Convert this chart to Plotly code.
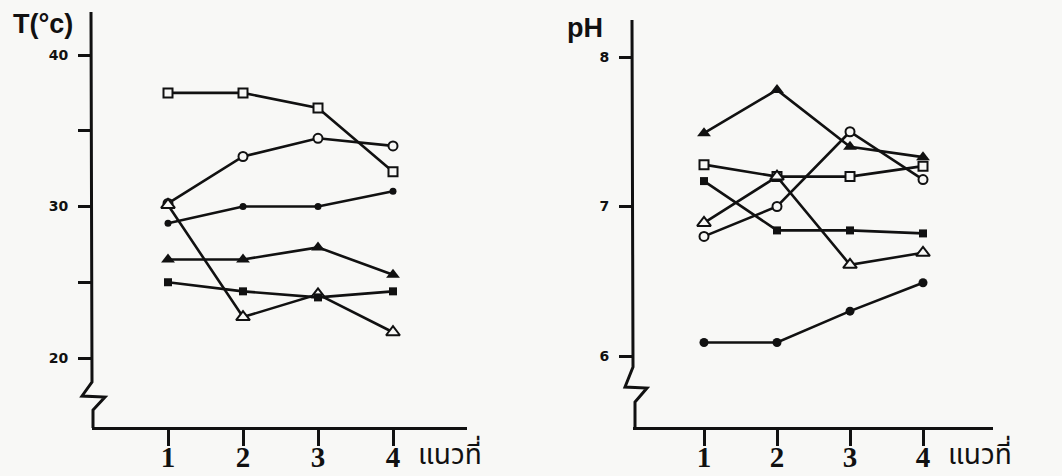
import plotly.graph_objects as go

W, H = 1062, 476

# ---- data ----
lines_x = [1, 2, 3, 4]
x_ticklabels = ["1", "2", "3", "4"]

T_open_square = [37.5, 37.5, 36.5, 32.3]
T_open_circle = [30.2, 33.3, 34.5, 34.0]
T_filled_circle = [28.9, 30.0, 30.0, 31.0]
T_open_triangle = [30.1, 22.7, 24.2, 21.7]
T_filled_triangle = [26.5, 26.5, 27.3, 25.5]
T_filled_square = [25.0, 24.4, 24.0, 24.4]

pH_filled_triangle = [7.49, 7.78, 7.40, 7.33]
pH_open_circle = [6.80, 7.00, 7.50, 7.18]
pH_open_square = [7.28, 7.20, 7.20, 7.27]
pH_open_triangle = [6.89, 7.20, 6.61, 6.69]
pH_filled_square = [7.17, 6.84, 6.84, 6.82]
pH_filled_circle = [6.09, 6.09, 6.30, 6.49]

T_tickvals = [20, 25, 30, 35, 40]
T_ticktext = ["20", "", "30", "", "40"]
pH_tickvals = [6, 7, 8]
pH_ticktext = ["6", "7", "8"]

INK = "#111111"
BG = "#f8f8f6"

def px(x):
    return x / W

def py(y):
    return 1 - y / H

fig = go.Figure()

def add(xa, ya, ys, symbol, size, hollow=False):
    fig.add_trace(go.Scatter(
        x=lines_x, y=ys, xaxis=xa, yaxis=ya, mode="lines+markers",
        line=dict(color=INK, width=2.6),
        marker=dict(symbol=symbol, size=size, color=BG if hollow else INK,
                    line=dict(color=INK, width=2 if hollow else 0)),
        showlegend=False, cliponaxis=False))

add("x", "y", T_open_square, "square", 9, True)
add("x", "y", T_open_circle, "circle", 9, True)
add("x", "y", T_filled_circle, "circle", 7)
add("x", "y", T_open_triangle, "triangle-up", 12, True)
add("x", "y", T_filled_triangle, "triangle-up", 12)
add("x", "y", T_filled_square, "square", 8)

add("x2", "y2", pH_filled_triangle, "triangle-up", 12)
add("x2", "y2", pH_open_circle, "circle", 9, True)
add("x2", "y2", pH_open_square, "square", 9, True)
add("x2", "y2", pH_open_triangle, "triangle-up", 12, True)
add("x2", "y2", pH_filled_square, "square", 8)
add("x2", "y2", pH_filled_circle, "circle", 9)

xcommon = dict(
    tickvals=lines_x, ticktext=x_ticklabels, ticks="outside", ticklen=16, tickwidth=2.5,
    tickcolor=INK, showline=True, linecolor=INK, linewidth=3, showgrid=False,
    zeroline=False, tickfont=dict(family="Liberation Serif", size=29, color=INK, weight="bold"),
    ticklabelstandoff=-14, automargin=False,
)
ycommon = dict(
    ticks="outside", ticklen=13, tickwidth=2.5, tickcolor=INK, showline=False,
    showgrid=False, zeroline=False,
    tickfont=dict(family="DejaVu Sans", size=14, color=INK, weight="bold"),
    ticklabelstandoff=7, automargin=False,
)

fig.update_layout(
    xaxis=dict(domain=[px(92), px(467)], range=[1 - (168 - 92) / 75, 4 + (467 - 393) / 75],
               anchor="y", **xcommon),
    yaxis=dict(domain=[py(427), py(12)], range=[20 - (427 - 358) / 15.15, 40 + (55 - 12) / 15.15],
               anchor="x", tickvals=T_tickvals, ticktext=T_ticktext, **ycommon),
    xaxis2=dict(domain=[px(633), px(993)], range=[1 - (704 - 633) / 73, 4 + (993 - 923) / 73],
                anchor="y2", **xcommon),
    yaxis2=dict(domain=[py(427), py(20)], range=[6 - (427 - 356) / 149.5, 8 + (57 - 20) / 149.5],
                anchor="x2", tickvals=pH_tickvals, ticktext=pH_ticktext, **ycommon),
)

def axis_path(pts):
    d = "M " + " L ".join(f"{px(a):.5f},{py(b):.5f}" for a, b in pts)
    return dict(type="path", xref="paper", yref="paper", path=d,
                line=dict(color=INK, width=3), layer="above")

fig.add_shape(axis_path([(91, 12), (92, 382), (82, 396), (105, 397), (93, 410), (93, 428)]))
fig.add_shape(axis_path([(632, 20), (633, 367), (625, 387), (647, 388), (635, 402), (635, 428)]))

ann_font = dict(family="Liberation Sans", size=27, color=INK, weight="bold")
fig.add_annotation(text="T(°c)", x=px(11), y=py(24), xref="paper", yref="paper",
                   xanchor="left", yanchor="middle", showarrow=False, font=ann_font)
fig.add_annotation(text="pH", x=px(565), y=py(28), xref="paper", yref="paper",
                   xanchor="left", yanchor="middle", showarrow=False, font=ann_font)
thai_font = dict(family="Noto Sans Thai, Noto Sans, DejaVu Sans, sans-serif", size=28, color=INK)
fig.add_annotation(text="แนวที่", x=px(416), y=py(455), xref="paper", yref="paper",
                   xanchor="left", yanchor="middle", showarrow=False, font=thai_font)
fig.add_annotation(text="แนวที่", x=px(946), y=py(455), xref="paper", yref="paper",
                   xanchor="left", yanchor="middle", showarrow=False, font=thai_font)

fig.update_layout(
    width=W, height=H, margin=dict(l=0, r=0, t=0, b=0, autoexpand=False),
    paper_bgcolor=BG, plot_bgcolor=BG, showlegend=False,
)

fig.write_html("out.html")
